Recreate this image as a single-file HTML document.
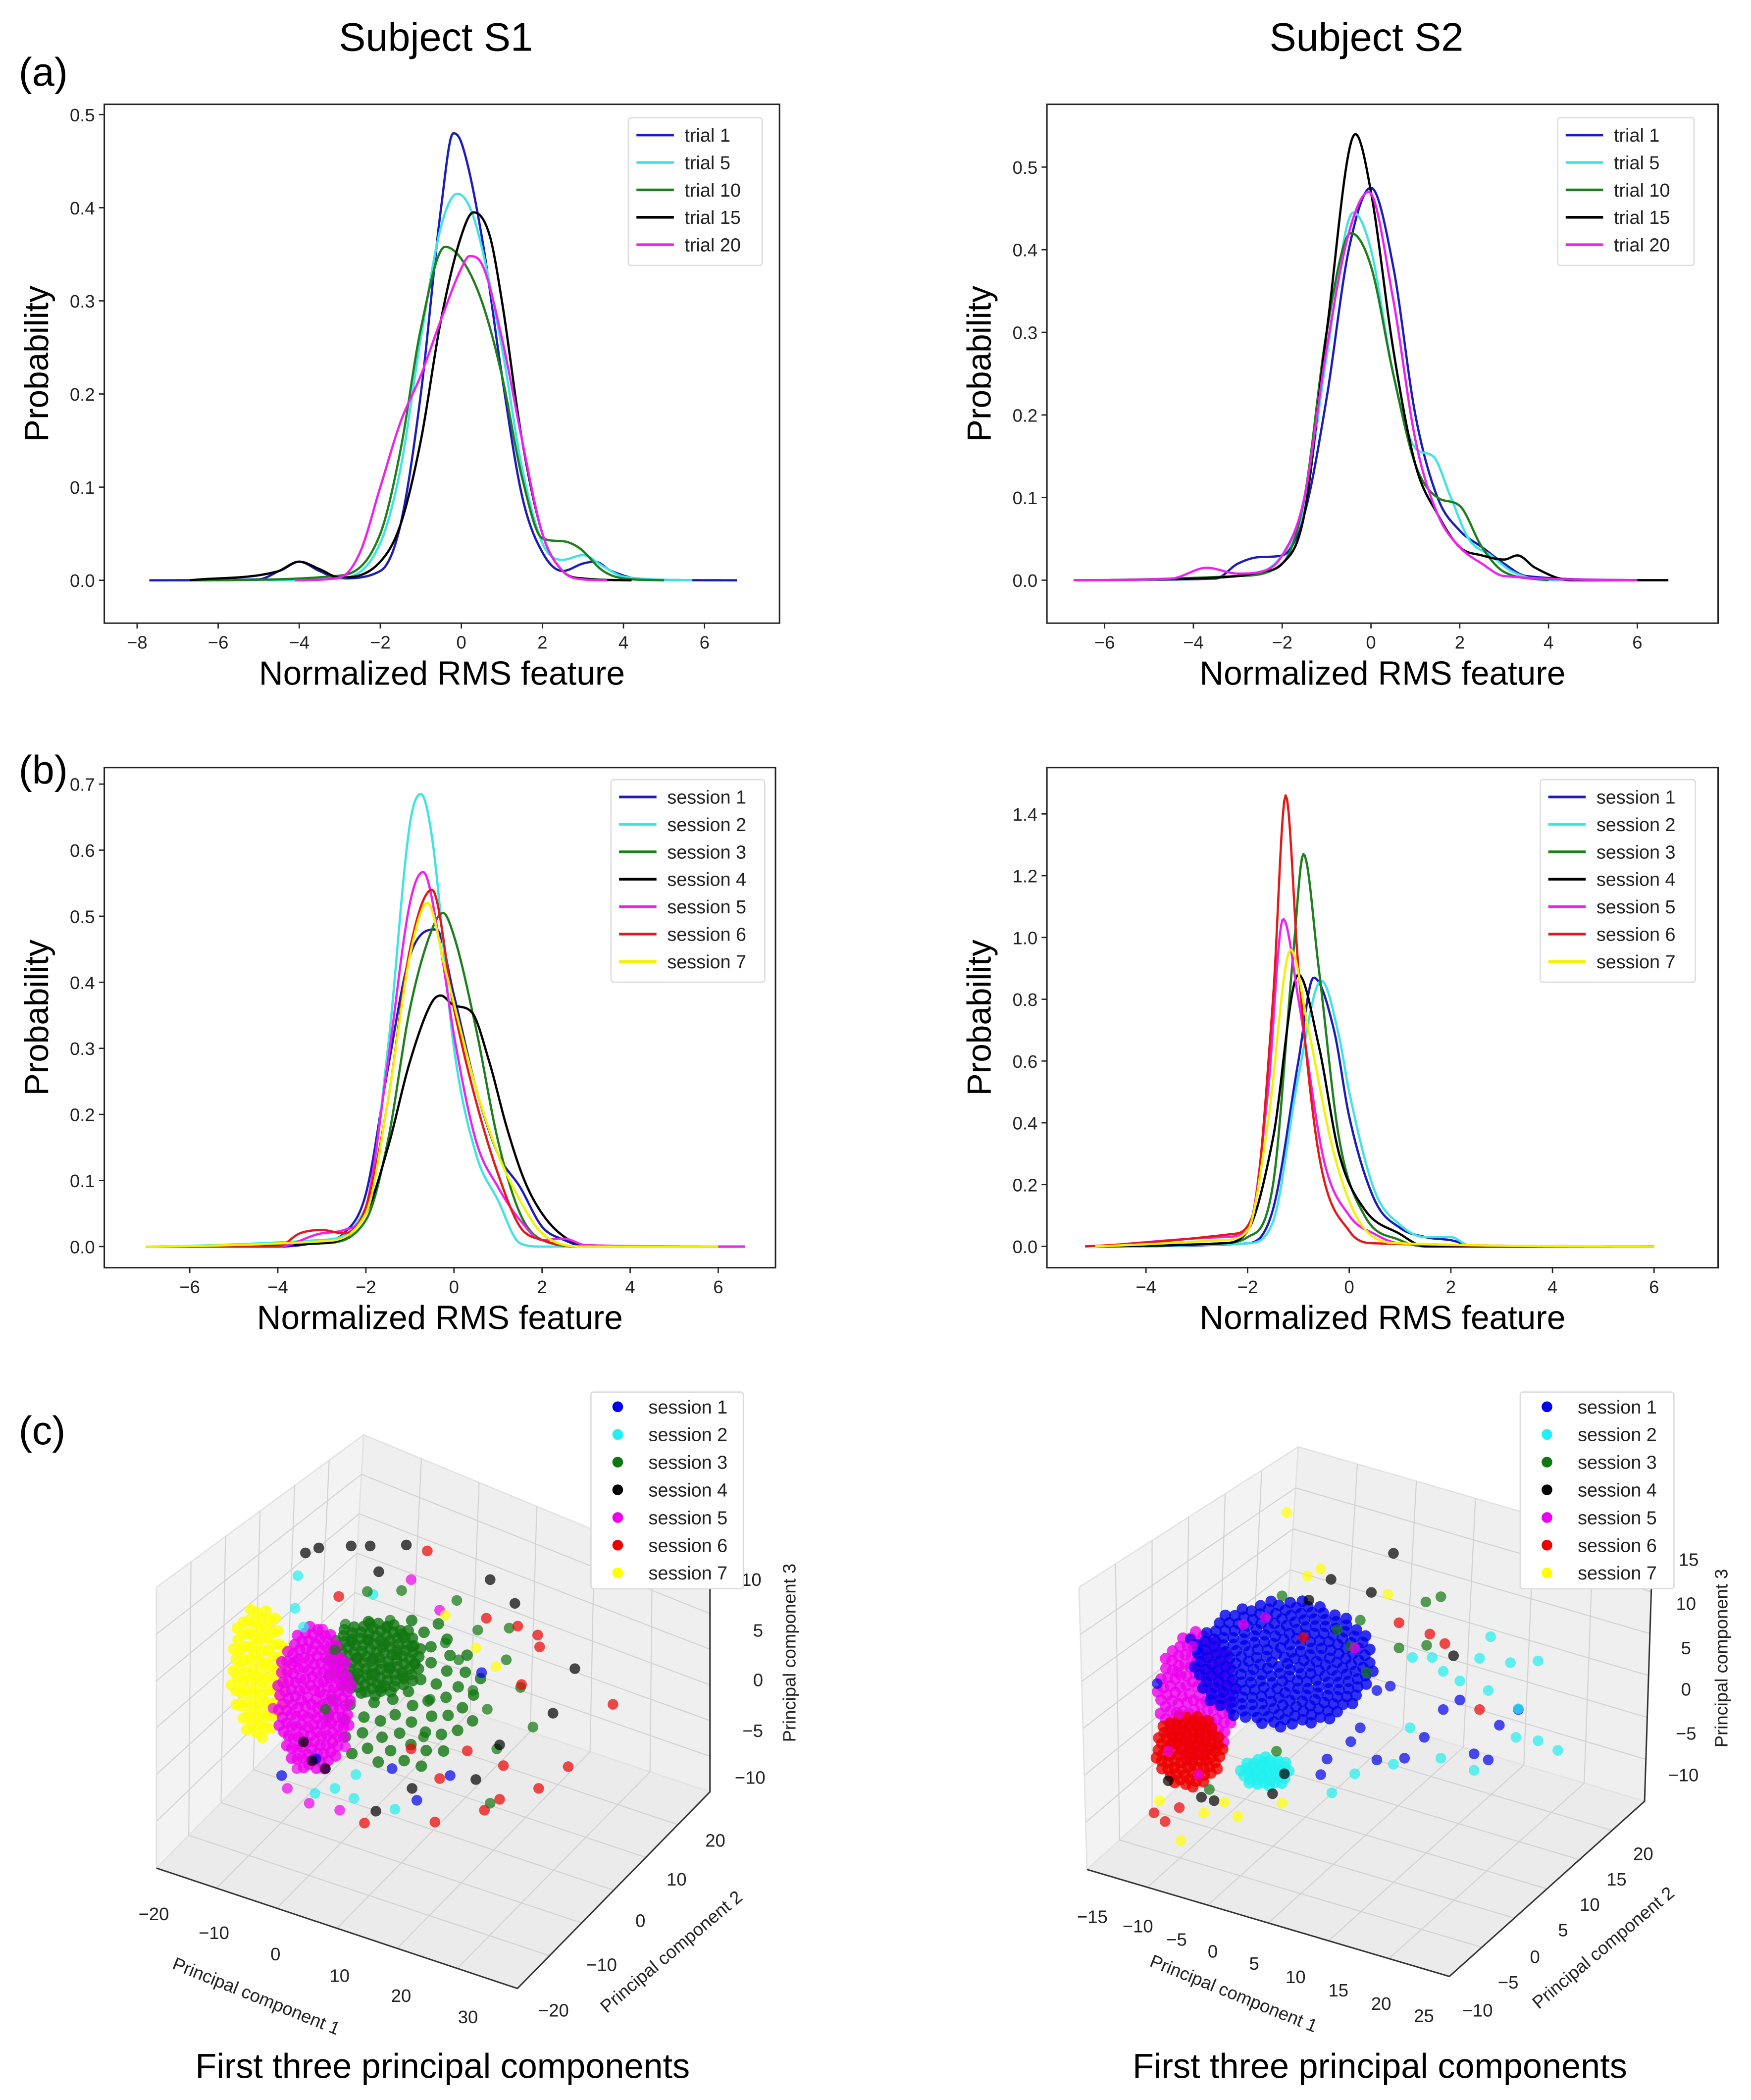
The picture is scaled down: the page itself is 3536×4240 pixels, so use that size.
<!DOCTYPE html>
<html><head><meta charset="utf-8"><style>
html,body{margin:0;padding:0;background:#fff}
svg{display:block}
text{font-family:"Liberation Sans",sans-serif}
.tk{font-size:13.5px;fill:#222}
.lg{font-size:14px;fill:#222}
</style></head><body>
<svg id="fig" xmlns="http://www.w3.org/2000/svg" width="3536" height="4240" viewBox="0 0 1309.6 1570.4" preserveAspectRatio="none">
<rect width="1309.6" height="1570.4" fill="#fff"/>
<text x="326" y="38" font-size="30" text-anchor="middle">Subject S1</text>
<text x="1022" y="38" font-size="30" text-anchor="middle">Subject S2</text>
<text x="14" y="64" font-size="30">(a)</text>
<text x="14" y="586" font-size="30">(b)</text>
<text x="14" y="1080" font-size="30">(c)</text>
<text x="331" y="1554" font-size="26" text-anchor="middle">First three principal components</text>
<text x="1032" y="1554" font-size="26" text-anchor="middle">First three principal components</text>
<g id="root"></g>
</svg>
<script>
// ---------- DATA: panel (a) left, subject S1 trials ----------
const aLNames=['trial 1','trial 5','trial 10','trial 15','trial 20'];
const aLX=[
[-7.7,-5,-4.5,-4,-3.5,-3,-2,-1.5,-1,-0.5,-0.2,0,0.5,1,1.5,2,2.5,3,3.3,3.7,4.5,6.8],
[-4.8,-3,-2,-1.5,-1,-0.5,-0.1,0.3,1,1.5,2,2.5,3,3.5,4,5.7],
[-6.6,-3,-2,-1.5,-1,-0.4,0,0.5,1,1.5,2,2.5,2.9,3.5,4,5],
[-6.7,-4.5,-4,-3.5,-3,-2,-1.5,-1,-0.5,0,0.3,0.7,1,1.5,2,2.5,3,4.2],
[-4.1,-3,-2.5,-2,-1.5,-1,-0.5,0,0.2,0.5,1,1.5,2,2.5,3,3.6]];
const aLY=[
[0,0.001,0.01,0.02,0.01,0.002,0.01,0.06,0.2,0.4,0.48,0.47,0.37,0.22,0.09,0.03,0.01,0.018,0.02,0.01,0.001,0],
[0,0.002,0.04,0.12,0.26,0.38,0.415,0.39,0.25,0.12,0.04,0.022,0.027,0.015,0.004,0],
[0,0.005,0.05,0.14,0.27,0.358,0.345,0.3,0.22,0.11,0.045,0.042,0.035,0.01,0.002,0],
[0,0.01,0.02,0.012,0.003,0.02,0.06,0.15,0.28,0.37,0.395,0.37,0.3,0.15,0.05,0.01,0.002,0],
[0,0.003,0.03,0.1,0.17,0.22,0.28,0.335,0.348,0.34,0.26,0.15,0.05,0.01,0.001,0]];
const aLXTicks=[-8,-6,-4,-2,0,2,4,6];
const aLYTicks=[0.0,0.1,0.2,0.3,0.4,0.5];
// ---------- DATA: panel (a) right, subject S2 trials ----------
const aRNames=['trial 1','trial 5','trial 10','trial 15','trial 20'];
const aRX=[
[-6.7,-3.5,-3,-2.5,-2,-1.5,-1,-0.5,0,0.5,1,1.5,2,2.5,3,3.5,6],
[-6,-3,-2,-1.5,-1,-0.4,0,0.5,1,1.4,1.8,2.2,2.7,3.2,4,6],
[-6,-3,-2,-1.5,-1,-0.45,0,0.5,1,1.5,2,2.5,3,4],
[-6,-3,-2.5,-2,-1.5,-1,-0.35,0,0.5,1,1.5,2,2.5,3,3.3,3.7,4.5,6.7],
[-6.7,-4.5,-3.7,-3,-2.5,-2,-1.5,-1,-0.5,-0.05,0.5,1,1.5,2,2.5,3,6]];
const aRY=[
[0,0.002,0.02,0.028,0.03,0.08,0.22,0.4,0.475,0.38,0.2,0.1,0.06,0.04,0.02,0.005,0],
[0,0.005,0.03,0.09,0.27,0.445,0.4,0.25,0.16,0.15,0.1,0.05,0.03,0.01,0,0],
[0,0.005,0.02,0.1,0.3,0.42,0.38,0.25,0.14,0.1,0.09,0.04,0.01,0],
[0,0.005,0.01,0.02,0.08,0.3,0.54,0.47,0.28,0.14,0.08,0.04,0.03,0.025,0.03,0.015,0,0],
[0,0.002,0.015,0.008,0.01,0.03,0.1,0.28,0.42,0.47,0.34,0.17,0.08,0.04,0.02,0.005,0]];
const aRXTicks=[-6,-4,-2,0,2,4,6];
const aRYTicks=[0.0,0.1,0.2,0.3,0.4,0.5];
// ---------- DATA: panel (b) left, subject S1 sessions ----------
const bLNames=['session 1','session 2','session 3','session 4','session 5','session 6','session 7'];
const bLX=[
[-7,-4,-3,-2.5,-2,-1.5,-1,-0.4,0,0.5,1,1.5,2,2.5,3,6.6],
[-7,-3,-2,-1.5,-1,-0.75,-0.5,0,0.5,1,1.5,2,6],
[-7,-3,-2,-1.5,-1,-0.5,-0.25,0,0.5,1,1.5,2,3,6.6],
[-7,-3,-2,-1.5,-1,-0.5,-0.3,0,0.4,0.8,1.2,1.6,2,2.5,3,6],
[-7,-4,-3,-2.5,-2,-1.5,-1,-0.7,-0.3,0,0.5,1,1.5,2,2.5,3,6.6],
[-7,-4,-3.5,-3,-2.5,-2,-1.5,-1,-0.5,0,0.5,1,1.5,2,3,6],
[-7,-3,-2,-1.5,-1,-0.6,-0.2,0.5,1,1.5,2,3,6]];
const bLY=[
[0,0,0.008,0.02,0.08,0.27,0.44,0.48,0.38,0.24,0.14,0.09,0.03,0.01,0,0],
[0,0.01,0.06,0.3,0.64,0.685,0.62,0.3,0.14,0.07,0.005,0,0],
[0,0.005,0.04,0.16,0.36,0.48,0.505,0.47,0.33,0.16,0.05,0.01,0,0],
[0,0.005,0.05,0.15,0.28,0.37,0.38,0.365,0.355,0.28,0.18,0.1,0.05,0.015,0.002,0],
[0,0,0.02,0.025,0.06,0.28,0.52,0.567,0.45,0.32,0.16,0.09,0.04,0.01,0.012,0.002,0],
[0,0,0.02,0.025,0.02,0.06,0.22,0.45,0.54,0.36,0.22,0.11,0.03,0.01,0,0],
[0,0.008,0.05,0.22,0.44,0.52,0.42,0.24,0.14,0.07,0.02,0,0]];
const bLXTicks=[-6,-4,-2,0,2,4,6];
const bLYTicks=[0.0,0.1,0.2,0.3,0.4,0.5,0.6,0.7];
// ---------- DATA: panel (b) right, subject S2 sessions ----------
const bRNames=['session 1','session 2','session 3','session 4','session 5','session 6','session 7'];
const bRX=[
[-5,-2,-1.5,-1,-0.7,-0.3,0,0.5,1,1.5,2,2.5,6],
[-5,-2,-1.5,-1,-0.55,-0.2,0,0.5,1,1.5,2,2.4,6],
[-5,-2.5,-2,-1.5,-1.1,-0.9,-0.6,-0.2,0.3,1,1.5,6],
[-5,-2.5,-2,-1.5,-1,-0.6,-0.2,0.3,1,1.5,6],
[-5,-2.5,-2,-1.6,-1.3,-1,-0.5,0,0.5,1,6],
[-5.2,-2.3,-1.9,-1.5,-1.25,-1,-0.6,0,0.5,6],
[-5,-2.5,-2,-1.6,-1.15,-0.8,-0.3,0.2,1,6]];
const bRY=[
[0,0.01,0.12,0.6,0.87,0.7,0.42,0.15,0.06,0.03,0.02,0,0],
[0,0.01,0.08,0.55,0.86,0.68,0.5,0.18,0.07,0.03,0.03,0,0],
[0,0.01,0.03,0.2,0.95,1.27,0.9,0.35,0.1,0.02,0,0],
[0,0.01,0.05,0.35,0.88,0.65,0.3,0.12,0.04,0,0],
[0,0.03,0.05,0.5,1.06,0.8,0.28,0.1,0.04,0.01,0],
[0,0.04,0.1,0.8,1.46,0.9,0.3,0.05,0.01,0],
[0,0.02,0.05,0.4,0.96,0.7,0.3,0.08,0.01,0]];
const bRXTicks=[-4,-2,0,2,4,6];
const bRYTicks=[0.0,0.2,0.4,0.6,0.8,1.0,1.2,1.4];
// ---------- DATA: panel (c) scatter, [pc1, pc3] pairs per session ----------
const cLPoints=[
[[-9.6,-9.7],[8.1,-9.7],[11.4,0.7],[4.6,-12.2],[-6,-8],[2,-9]],
[[-7.9,10.5],[-8.2,7.2],[-7.3,5.3],[-6.1,-11.5],[2.3,-13.1],[-1.8,-9.6],[0,8.6],[-4,-11],[-2,-12]],
[[-0.6,8.9],[8.8,8],[14.3,5.2],[15.5,-0.8],[16.8,-4.8],[12.3,-12.5],[7.6,3.7],[10.5,-1.1],[5.3,-5.8],[1.8,6],[-2.9,5.6],[9,2],[12,-3],[11,5],[6,-2],[13,-7],[-4,3],[-5,-3],[3,9],[14,2]],
[[-7.1,12.8],[-5.7,13.3],[-2.3,13.5],[-0.3,13.5],[3.5,13.6],[0.6,10.9],[12.3,10.1],[14.9,7.7],[21.2,1.1],[18.9,-3.4],[13.3,-6.6],[10.8,-10.1],[0.3,-13.3],[4.1,-11],[-6.4,-8.2],[-7.3,-6.3],[-5,-9]],
[[4,10.1],[-5.3,5.1],[-10.5,-2.9],[-8.2,1.8],[-6.7,-12.5],[-3.5,-13.2],[-2.9,-6.8],[7,7],[-8,-9],[-9,-11]],
[[5.7,13],[11.9,6.2],[15.2,5.4],[17.3,4.5],[17.5,3.3],[15.6,-0.5],[25.2,-2.5],[20.5,-8.8],[17.4,-11],[13.3,-12.1],[6.5,-14.4],[-0.9,-14.5],[11.7,-13.2],[13.7,-8.7],[9.9,-7.2],[-3.6,8.4],[7,-10],[4,-7]],
[[10.8,3.2],[12.9,1.3],[7.6,6.5]]];
const cRPoints=[
[[-16.5,0.7],[-12.3,5.8],[-11.4,4.6],[26.8,-4.1],[29.2,-2.3],[23.6,-7.4],[25.4,-8.1],[14.8,-7.9],[11.3,-8.1],[17.3,-5.5],[19.7,-2.3],[21.8,-1.2],[11.3,-0.1],[13,0.4],[9.2,-4.4],[4.2,-9.8],[8,-6],[5,-8]],
[[25.7,6.1],[24.3,3.6],[31.7,3.3],[28.2,3.1],[29.2,-2.2],[28.9,-5.5],[31.7,-5.9],[34.2,-7],[23.6,-9.3],[19.4,-7.9],[15.5,-4.4],[18.3,3.7],[21.8,1],[5.6,-11.9],[8.5,-9.7],[13.4,-8.6],[15.8,3.7],[19.7,2.1],[25.4,-0.1]],
[[-0.7,10.8],[17.5,10.1],[19.4,10.7],[14.1,4.8],[17.6,5.1],[9.2,8],[6.3,6.9],[-9.9,-11.5],[-1.4,-7.1],[8,5],[10,2]],
[[21,3.9],[5.5,12.7],[2.7,10.3],[10.6,11.2],[-15.1,-10.5],[-9.3,-12.8],[-1.9,-12],[-0.4,-9.7],[-10.9,-12.4],[13.4,15.7]],
[[-13.7,-2.8],[-15.1,-7.1],[-5.6,7.5],[-2.8,8.3],[8.5,4.8],[-11.3,-9.8],[-14,2],[-12,5]],
[[24.3,-2.3],[19.9,5.3],[18,6.4],[14.1,7.7],[-16.9,-14.2],[-15.5,-15.2],[-13.7,-13.6],[2,6]],
[[-0.1,20.4],[2.5,13.1],[4.2,13.9],[12.7,11],[-13.5,-17.4],[-6.3,-14.6],[-16.2,-12.8],[-0.7,-13.1],[-10.6,-14.2],[-8,-13]]];
// clouds: [session index, pc1 centre, pc3 centre, pc1 spread, pc3 spread, point count]
const cLCores=[[2,3,-1.2,8.5,8,70],[6,-12,0.8,3,6.8,90],[2,0.3,2.2,5,3.8,110],[4,-6.2,-2,4,7.4,160]];
const cRCores=[[1,-2.8,-9.5,3.2,1.8,40],[4,-11.5,-0.7,5,7.5,130],[0,-0.5,3,11.5,7.4,260],[5,-12.5,-7,4.3,4.3,90]];
const cLTicks1=['−20','−10','0','10','20','30'],cLTicks2=['−20','−10','0','10','20'],cLTicks3=['10','5','0','−5','−10'];
const cRTicks1=['−15','−10','−5','0','5','10','15','20','25'],cRTicks2=['−10','−5','0','5','10','15','20'],cRTicks3=['15','10','5','0','−5','−10'];

// ---------- rendering ----------
const NS='http://www.w3.org/2000/svg';
const root=document.getElementById('root');
const lineCols5=['#1c1cb8','#3fe3e3','#1d7f1d','#000000','#ee22ee'];
const lineCols7=['#1c1cb8','#3fe3e3','#1d7f1d','#000000','#ee22ee','#e41a1a','#f2f200'];
const dotCols=['#0000ee','#22f0f0','#117711','#000000','#ee00ee','#ee0000','#ffff00'];
function mk(tag,attrs,parent){const e=document.createElementNS(NS,tag);for(const k in attrs)e.setAttribute(k,attrs[k]);(parent||root).appendChild(e);return e;}
function monoInterp(xs,ys){const n=xs.length,d=[],m=new Array(n);
  for(let i=0;i<n-1;i++)d.push((ys[i+1]-ys[i])/(xs[i+1]-xs[i]));
  m[0]=d[0];m[n-1]=d[n-2];
  for(let i=1;i<n-1;i++){m[i]=(d[i-1]*d[i]<=0)?0:(d[i-1]+d[i])/2;}
  for(let i=0;i<n-1;i++){if(d[i]===0){m[i]=0;m[i+1]=0;continue;}const a=m[i]/d[i],b=m[i+1]/d[i],s=a*a+b*b;if(s>9){const t=3/Math.sqrt(s);m[i]=t*a*d[i];m[i+1]=t*b*d[i];}}
  return x=>{let i=0;while(i<n-2&&x>xs[i+1])i++;const h=xs[i+1]-xs[i],t=(x-xs[i])/h,t2=t*t,t3=t2*t;
    return (2*t3-3*t2+1)*ys[i]+(t3-2*t2+t)*h*m[i]+(-2*t3+3*t2)*ys[i+1]+(t3-t2)*h*m[i+1];};}
function fmt(v,dec){return (v<0?'−':'')+Math.abs(v).toFixed(dec);}

function lineChart(o){
  const g=mk('g',{});
  
  
  const sx=x=>o.L+(x-o.xmin)/(o.xmax-o.xmin)*(o.R-o.L);
  const sy=y=>o.B-(y-o.ymin)/(o.ymax-o.ymin)*(o.B-o.T);
  const clipId=o.name+'-clip';
  const cp=mk('clipPath',{id:clipId},g);mk('rect',{x:o.L,y:o.T,width:o.R-o.L,height:o.B-o.T},cp);
  for(let i=0;i<o.X.length;i++){
    const xs=o.X[i],f=monoInterp(xs,o.Y[i]);const x0=xs[0],x1=xs[xs.length-1];let d='';
    for(let k=0;k<=400;k++){const x=x0+(x1-x0)*k/400;d+=(k?'L':'M')+sx(x).toFixed(2)+','+sy(f(x)).toFixed(2);}
    const p=mk('path',{d:d,fill:'none',stroke:o.cols[i],'stroke-width':1.7,'stroke-linejoin':'round','clip-path':'url(#'+clipId+')'},g);
    
    
  }
  const fr=mk('rect',{x:o.L,y:o.T,width:o.R-o.L,height:o.B-o.T,fill:'none',stroke:'#222','stroke-width':1.1},g);
  
  
  o.xt.forEach(v=>{const x=sx(v);mk('line',{x1:x,x2:x,y1:o.B,y2:o.B+4,stroke:'#222'},g);
    const t=mk('text',{x:x,y:o.B+19,'text-anchor':'middle',class:'tk'},g);t.textContent=fmt(v,0);
    
    });
  const tg=mk('g',o.tclip?{'clip-path':'url(#'+o.name+'-tclip)'}:{},g);
  if(o.tclip){const c2=mk('clipPath',{id:o.name+'-tclip'},g);mk('rect',{x:o.tclip,y:0,width:400,height:1570},c2);}
  o.yt.forEach(v=>{const y=sy(v);mk('line',{x1:o.L-4,x2:o.L,y1:y,y2:y,stroke:'#222'},g);
    const t=mk('text',{x:o.L-7,y:y+5,'text-anchor':'end',class:'tk'},tg);t.textContent=fmt(v,1);
    
    });
  const xl=mk('text',{x:(o.L+o.R)/2,y:o.B+46,'text-anchor':'middle','font-size':25},g);xl.textContent='Normalized RMS feature';
  
  
  const yc=(o.T+o.B)/2;
  const yl=mk('text',{x:o.L-42,y:yc,'text-anchor':'middle','font-size':25,transform:'rotate(-90 '+(o.L-42)+' '+yc+')'},g);yl.textContent='Probability';
  
  
  const n=o.names.length;
  const lg=mk('g',{},g);
  
  
  mk('rect',{x:o.lx,y:o.ly,width:o.lw,height:n*20.5+8,fill:'#fff',stroke:'#ddd',rx:2},lg);
  o.names.forEach((nm,i)=>{const y=o.ly+13+i*20.5;
    mk('line',{x1:o.lx+6,x2:o.lx+34,y1:y,y2:y,stroke:o.cols[i],'stroke-width':2},lg);
    const t=mk('text',{x:o.lx+42,y:y+5,class:'lg'},lg);t.textContent=nm;
    
    });
}
lineChart({name:'chart-a-s1',L:78,R:583,T:78,B:466,xmin:-8.81,xmax:7.85,ymin:-0.046,ymax:0.511,X:aLX,Y:aLY,names:aLNames,cols:lineCols5,xt:aLXTicks,yt:aLYTicks,lx:470,ly:88,lw:100});
lineChart({name:'chart-a-s2',L:783,R:1285,T:78,B:466,xmin:-7.30,xmax:7.82,ymin:-0.052,ymax:0.576,X:aRX,Y:aRY,names:aRNames,cols:lineCols5,xt:aRXTicks,yt:aRYTicks,lx:1165,ly:88,lw:102});
lineChart({name:'chart-b-s1',L:78,R:580,T:574,B:948,xmin:-7.94,xmax:7.3,ymin:-0.032,ymax:0.725,X:bLX,Y:bLY,names:bLNames,cols:lineCols7,xt:bLXTicks,yt:bLYTicks,lx:457,ly:583,lw:115});
lineChart({name:'chart-b-s2',L:783,R:1285,T:574,B:948,xmin:-5.95,xmax:7.26,ymin:-0.069,ymax:1.55,X:bRX,Y:bRY,names:bRNames,cols:lineCols7,xt:bRXTicks,yt:bRYTicks,lx:1152,ly:583,lw:116,tclip:755});

function lerp(a,b,t){return [a[0]+(b[0]-a[0])*t,a[1]+(b[1]-a[1])*t];}
function scatter3d(o){
  const g=mk('g',{});
  
  
  const {FL,FF,FR,FB,TL,TB,TR}=o;
  mk('polygon',{points:[FL,FB,TB,TL].join(' '),fill:'#f3f3f3',stroke:'#e2e2e2'},g);
  mk('polygon',{points:[FB,FR,TR,TB].join(' '),fill:'#efefef',stroke:'#e2e2e2'},g);
  mk('polygon',{points:[FL,FF,FR,FB].join(' '),fill:'#ebebeb',stroke:'#e2e2e2'},g);
  const gl=(a,b,c,d)=>{for(let k=1;k<6;k++){const t=k/6;const p=lerp(a,b,t),q=lerp(d,c,t);mk('line',{x1:p[0],y1:p[1],x2:q[0],y2:q[1],stroke:'#d2d2d2','stroke-width':0.8},g);}};
  gl(FL,FB,TB,TL);gl(FL,TL,TB,FB);gl(FB,FR,TR,TB);gl(FB,TB,TR,FR);gl(FL,FF,FR,FB);gl(FL,FB,FR,FF);
  mk('polyline',{points:[FL,FF,FR,TR].join(' '),fill:'none',stroke:'#333','stroke-width':1.1},g);
  const sx=v=>o.x0+o.kx*v, sy=v=>o.y0-o.kz*v;
  const cg=mk('g',{},g);
  const GA=Math.PI*(3-Math.sqrt(5));
  o.cores.forEach(c=>{
    const col=dotCols[c[0]];const cx=sx(c[1]),cy=sy(c[2]),rx=o.kx*c[3],ry=o.kz*c[4],n=c[5];
    const cgr=mk('g',{},cg);
    
    
    for(let k=0;k<n;k++){const r=Math.sqrt((k+0.5)/n),th=k*GA;
      mk('circle',{cx:(cx+rx*r*Math.cos(th)).toFixed(2),cy:(cy+ry*r*Math.sin(th)).toFixed(2),r:4.3,fill:col,opacity:0.8},cgr);}
  });
  o.pts.forEach((arr,si)=>arr.forEach(p=>{
    const c=mk('circle',{cx:sx(p[0]),cy:sy(p[1]),r:4,fill:dotCols[si],opacity:0.7},g);
    
    
  }));
  const tl=(arr,pos,cls)=>arr.forEach((s,i)=>{const t=mk('text',{x:pos[i][0],y:pos[i][1]+5,'text-anchor':'middle',class:'tk'},g);t.textContent=s;
    
    });
  tl(o.t1,o.p1,'pc1-tick-label');tl(o.t2,o.p2,'pc2-tick-label');tl(o.t3,o.p3,'pc3-tick-label');
  const lab=(s,p,r,nm)=>{const t=mk('text',{x:p[0],y:p[1],'text-anchor':'middle','font-size':13.5,fill:'#222',transform:'rotate('+r+' '+p[0]+' '+p[1]+')'},g);t.textContent=s;
    
    };
  lab('Principal component 1',o.l1,22,'pc1-axis-title');lab('Principal component 2',o.l2,-40,'pc2-axis-title');lab('Principal component 3',o.l3,-90,'pc3-axis-title');
  const lg=mk('g',{},g);
  
  
  mk('rect',{x:o.lx,y:o.ly,width:o.lw,height:147,fill:'#fff',stroke:'#ddd',rx:2},lg);
  bLNames.forEach((nm,i)=>{const y=o.ly+11+i*20.7;
    mk('circle',{cx:o.lx+20,cy:y,r:4,fill:dotCols[i]},lg);
    const t=mk('text',{x:o.lx+43,y:y+5,class:'lg'},lg);t.textContent=nm;
    
    });
}
scatter3d({name:'chart-c-s1',FL:[117,1397],FF:[387,1487],FR:[531,1340],FB:[262,1250],TL:[117,1187],TB:[272,1073],TR:[531,1180],
  x0:279,kx:7.12,y0:1256,kz:7.4,cores:cLCores,pts:cLPoints,
  t1:cLTicks1,p1:[[115,1431],[160,1445],[206,1461],[254,1477],[300,1492],[350,1508]],
  t2:cLTicks2,p2:[[414,1503],[450,1469],[479,1436],[506,1405],[535,1376]],
  t3:cLTicks3,p3:[[562,1181],[567,1219],[567,1256],[563,1294],[561,1329]],
  l1:[190,1497],l2:[505,1463],l3:[595,1236],lx:442,ly:1041,lw:114});
scatter3d({name:'chart-c-s2',FL:[813,1398],FF:[1084,1478],FR:[1230,1347],FB:[959,1266],TL:[807,1187],TB:[971,1082],TR:[1236,1159],
  x0:963,kx:5.91,y0:1263.5,kz:6.49,cores:cRCores,pts:cRPoints,
  t1:cRTicks1,p1:[[817,1433],[851,1440],[880,1450],[907,1459],[938,1468],[969,1478],[1001,1488],[1033,1498],[1065,1507]],
  t2:cRTicks2,p2:[[1105,1503],[1128,1482],[1148,1463],[1169,1443],[1189,1424],[1209,1405],[1229,1386]],
  t3:cRTicks3,p3:[[1263,1166],[1261,1199],[1261,1232],[1261,1263],[1261,1296],[1259,1327]],
  l1:[921,1495],l2:[1202,1460],l3:[1292,1240],lx:1137,ly:1041,lw:115});
</script>
</body></html>
